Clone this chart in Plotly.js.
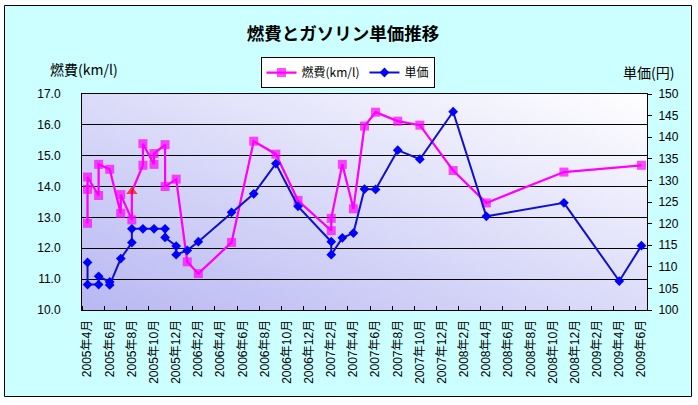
<!DOCTYPE html>
<html>
<head>
<meta charset="utf-8">
<script src="https://cdn.plot.ly/plotly-3.0.1.min.js"></script>
<style>html,body{margin:0;padding:0;background:#fff;}#chart{width:698px;height:405px;}</style>
</head>
<body>
<div id="chart"></div>
<script>
// ---- data ----
const tickLabels = ["2005年4月","2005年6月","2005年8月","2005年10月","2005年12月",
  "2006年2月","2006年4月","2006年6月","2006年8月","2006年10月","2006年12月",
  "2007年2月","2007年4月","2007年6月","2007年8月","2007年10月","2007年12月",
  "2008年2月","2008年4月","2008年6月","2008年8月","2008年10月","2008年12月",
  "2009年2月","2009年4月","2009年6月"];

const fuelMonths = ["2005-04","2005-04","2005-04","2005-05","2005-05","2005-06","2005-07","2005-07",
  "2005-08","2005-08","2005-09","2005-09","2005-10","2005-10","2005-11","2005-11","2005-12",
  "2006-01","2006-02","2006-05","2006-07","2006-09","2006-11","2007-02","2007-02","2007-03",
  "2007-04","2007-05","2007-06","2007-08","2007-10","2008-01","2008-04","2008-11","2009-06"];
const fuelValues = [13.91,12.81,14.31,13.71,14.72,14.56,13.13,13.74,
  12.92,13.84,14.69,15.39,14.72,15.07,15.36,14.00,14.24,
  11.56,11.18,12.19,15.47,15.05,13.55,12.57,12.97,14.72,
  13.28,15.96,16.41,16.12,15.99,14.52,13.47,14.47,14.69];
const fuelHighlightIndex = 9; // the red triangle point (2005-08)

const priceMonths = ["2005-04","2005-04","2005-05","2005-05","2005-06","2005-06","2005-07",
  "2005-08","2005-08","2005-09","2005-10","2005-11","2005-11","2005-12","2005-12",
  "2006-01","2006-02","2006-05","2006-07","2006-09","2006-11","2007-02","2007-02",
  "2007-03","2007-04","2007-05","2007-06","2007-08","2007-10","2008-01","2008-04",
  "2008-11","2009-04","2009-06"];
const priceValues = [111.0,105.9,105.9,107.8,106.5,105.8,111.9,
  115.6,118.8,118.8,118.8,118.8,116.8,114.8,112.8,
  113.8,115.8,122.6,126.9,133.9,124.0,115.8,112.8,
  116.7,117.8,128.0,127.9,137.0,134.9,145.9,121.7,
  124.8,106.7,114.9];

// ---- helpers ----
const START_Y = 2005, START_M = 4;
function idxFromYM(s){ const [y,m] = s.split("-").map(Number); return (y-START_Y)*12 + (m-START_M); }
function idxFromLabel(s){ const m = s.match(/(\d+)年(\d+)月/); return (Number(m[1])-START_Y)*12 + (Number(m[2])-START_M); }

const fuelX = fuelMonths.map(idxFromYM);
const priceX = priceMonths.map(idxFromYM);
const tickVals = tickLabels.map(idxFromLabel);

const latin = "Liberation Sans, Arial, Noto Sans CJK JP, sans-serif";
const jp = "Noto Sans CJK JP, Liberation Sans, sans-serif";

const gradSvg = "<svg xmlns='http://www.w3.org/2000/svg' width='565' height='216' preserveAspectRatio='none'>" +
  "<defs><linearGradient id='g' x1='0' y1='1' x2='1' y2='0'>" +
  "<stop offset='0' stop-color='#b8b8f3'/><stop offset='1' stop-color='#ffffff'/></linearGradient></defs>" +
  "<rect width='565' height='216' fill='url(#g)'/></svg>";
const gradUri = "data:image/svg+xml;charset=utf-8," + encodeURIComponent(gradSvg);

const traces = [
  {
    type: "scatter", mode: "lines+markers", name: "燃費(km/l)",
    x: fuelX, y: fuelValues, yaxis: "y",
    line: {color: "#ff00ff", width: 2.25},
    marker: {
      symbol: fuelValues.map((v,i) => i === fuelHighlightIndex ? "triangle-up" : "square"),
      color: fuelValues.map((v,i) => i === fuelHighlightIndex ? "#ff0000" : "#ff00ff"),
      size: fuelValues.map((v,i) => i === fuelHighlightIndex ? 10 : 9),
      line: {width: 0}
    }
  },
  {
    type: "scatter", mode: "lines+markers", name: "単価",
    x: priceX, y: priceValues, yaxis: "y2",
    line: {color: "#1010cc", width: 2},
    marker: {symbol: "diamond", color: "#0000ff", size: 7.5, line: {width: 0}}
  }
];

const W = 698, H = 405, L = 82, R = 51, T = 94, B = 95;
const PW = W - L - R, PH = H - T - B;
function px(xp){ return (xp - L) / PW; }
function py(yp){ return (H - B - yp) / PH; }

const layout = {
  width: W, height: H,
  margin: {l: L, r: R, t: T, b: B, pad: 0},
  paper_bgcolor: "#ccffff",
  plot_bgcolor: "#dcdcf8",
  showlegend: true,
  hovermode: false,
  title: {
    text: "燃費とガソリン単価推移",
    font: {family: jp, size: 17.5, color: "#000", weight: "bold"},
    xref: "paper", x: px(343), xanchor: "center",
    yref: "container", y: 1 - 34 / H, yanchor: "middle"
  },
  legend: {
    orientation: "h", x: px(347.5), xanchor: "center", y: py(57), yanchor: "top",
    bgcolor: "#ffffff", bordercolor: "#000000", borderwidth: 1,
    font: {family: jp, size: 12, color: "#000"},
    itemwidth: 30, tracegroupgap: 0
  },
  xaxis: {
    type: "linear", range: [-0.5, 50.5], fixedrange: true,
    showgrid: false, zeroline: false,
    showline: true, linecolor: "#000", linewidth: 1, mirror: true,
    tickmode: "array", tickvals: tickVals, ticktext: tickLabels,
    tickangle: -90, ticks: "",
    tickfont: {family: latin, size: 12, color: "#000"},
    ticklabelstandoff: 4,
    minor: {tickmode: "linear", tick0: -0.5, dtick: 2, ticks: "inside", ticklen: 4, tickcolor: "#000", tickwidth: 1, showgrid: false}
  },
  yaxis: {
    range: [10, 17], tickmode: "linear", tick0: 10, dtick: 1, tickformat: ".1f",
    showgrid: true, gridcolor: "#000", gridwidth: 1, zeroline: false,
    showline: true, linecolor: "#000", linewidth: 1, mirror: true,
    ticks: "", ticklabelstandoff: 18,
    tickfont: {family: latin, size: 12, color: "#000"}, fixedrange: true
  },
  yaxis2: {
    overlaying: "y", side: "right",
    range: [100, 150], tickmode: "linear", tick0: 100, dtick: 5,
    showgrid: false, zeroline: false,
    showline: true, linecolor: "#000", linewidth: 1,
    ticks: "outside", ticklen: 4, tickcolor: "#000",
    ticklabelstandoff: 4,
    tickfont: {family: latin, size: 12, color: "#000"}, fixedrange: true
  },
  images: [{
    source: gradUri, xref: "paper", yref: "paper",
    x: 0, y: 1, sizex: 1, sizey: 1, xanchor: "left", yanchor: "top",
    sizing: "stretch", layer: "below"
  }],
  annotations: [
    {text: "燃費(km/l)", xref: "paper", yref: "paper", x: px(48), y: py(69),
     xanchor: "left", yanchor: "middle", showarrow: false,
     font: {family: jp, size: 14, color: "#000"}},
    {text: "単価(円)", xref: "paper", yref: "paper", x: px(621), y: py(72),
     xanchor: "left", yanchor: "middle", showarrow: false,
     font: {family: jp, size: 14, color: "#000"}}
  ],
  shapes: [
    // white surround outside the chart frame
    {type: "rect", xref: "paper", yref: "paper", x0: px(0), x1: px(4), y0: py(H), y1: py(0), fillcolor: "#fff", line: {width: 0}, layer: "below"},
    {type: "rect", xref: "paper", yref: "paper", x0: px(692), x1: px(W), y0: py(H), y1: py(0), fillcolor: "#fff", line: {width: 0}, layer: "below"},
    {type: "rect", xref: "paper", yref: "paper", x0: px(0), x1: px(W), y0: py(5), y1: py(0), fillcolor: "#fff", line: {width: 0}, layer: "below"},
    {type: "rect", xref: "paper", yref: "paper", x0: px(0), x1: px(W), y0: py(H), y1: py(397), fillcolor: "#fff", line: {width: 0}, layer: "below"},
    // chart frame
    {type: "rect", xref: "paper", yref: "paper", x0: px(4.5), x1: px(691.5), y0: py(396.5), y1: py(5.5), fillcolor: "rgba(0,0,0,0)", line: {color: "#000", width: 1}, layer: "above"}
  ]
};

Plotly.newPlot("chart", traces, layout, {displayModeBar: false, staticPlot: true});
</script>
</body>
</html>
